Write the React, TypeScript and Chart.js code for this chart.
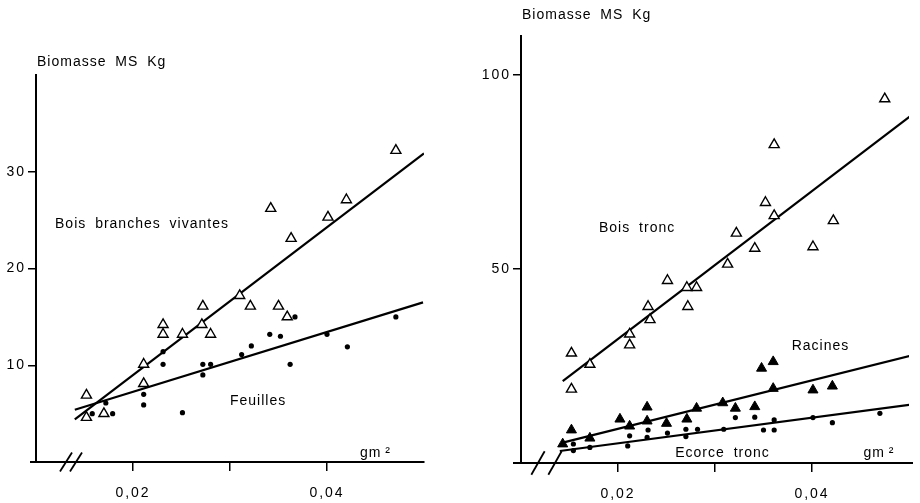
import React, { useEffect, useRef } from "react";
import { Chart, registerables } from "chart.js";
Chart.register(...registerables);

// ---------- Shared axis data ----------
const xMin = 0.01;
const xMax = 0.05;
const xTickValues = [0.02, 0.03, 0.04];
const xTickLabels = ["0,02", "", "0,04"];

// ---------- Left panel: Bois branches vivantes / Feuilles ----------
const leftYMax = 40;
const leftYTicks = [10, 20, 30];
const boisBranchesX = [0.0471, 0.042, 0.0401, 0.0342, 0.0363, 0.031, 0.0321, 0.035, 0.0359, 0.0272, 0.0271, 0.028, 0.0231, 0.0231, 0.0251, 0.0211, 0.0211, 0.0152, 0.0152, 0.017];
const boisBranchesY = [32.2, 27.1, 25.3, 26.2, 23.1, 17.2, 16.1, 16.1, 15.0, 16.1, 14.2, 13.2, 14.2, 13.2, 13.2, 10.1, 8.1, 6.9, 4.6, 5.0];
const boisBranchesFitX = [0.014, 0.05];
const boisBranchesFitY = [4.4, 31.9];
const feuillesX = [0.0367, 0.0471, 0.0341, 0.0352, 0.04, 0.0421, 0.0322, 0.0312, 0.0231, 0.0231, 0.0272, 0.028, 0.0272, 0.0362, 0.0211, 0.0211, 0.0172, 0.0158, 0.0179, 0.0251];
const feuillesY = [15.0, 15.0, 13.2, 13.0, 13.2, 11.9, 12.0, 11.1, 11.4, 10.1, 10.1, 10.1, 9.0, 10.1, 7.0, 5.9, 6.1, 5.0, 5.0, 5.1];
const feuillesFitX = [0.014, 0.0499];
const feuillesFitY = [5.4, 16.5];

// ---------- Right panel: Bois tronc / Racines / Ecorce tronc ----------
const rightYMax = 110;
const rightYTicks = [50, 100];
const boisTroncX = [0.0475, 0.0361, 0.0352, 0.0361, 0.0422, 0.0401, 0.0322, 0.0341, 0.0313, 0.0251, 0.0271, 0.0281, 0.0231, 0.0272, 0.0233, 0.0212, 0.0212, 0.0152, 0.0171, 0.0152];
const boisTroncY = [93.8, 82.0, 67.1, 63.7, 62.4, 55.7, 59.2, 55.3, 51.2, 47.0, 45.2, 45.2, 40.3, 40.3, 36.9, 33.2, 30.4, 28.3, 25.4, 19.0];
const boisTroncFitX = [0.0143, 0.0503];
const boisTroncFitY = [21.1, 89.7];
const racinesX = [0.0348, 0.036, 0.036, 0.0401, 0.0421, 0.0308, 0.0281, 0.0321, 0.0341, 0.023, 0.0202, 0.0212, 0.023, 0.025, 0.0271, 0.0152, 0.0171, 0.0143];
const racinesY = [24.4, 26.1, 19.2, 18.8, 19.8, 15.5, 14.1, 14.1, 14.5, 14.4, 11.3, 9.5, 10.8, 10.2, 11.3, 8.5, 6.4, 4.9];
const racinesFitX = [0.0142, 0.0503];
const racinesFitY = [5.2, 27.7];
const ecorceX = [0.047, 0.0401, 0.0421, 0.0321, 0.0341, 0.0361, 0.035, 0.0361, 0.0309, 0.0282, 0.027, 0.027, 0.0251, 0.0231, 0.023, 0.0212, 0.021, 0.0171, 0.0154, 0.0154];
const ecorceY = [12.8, 11.7, 10.4, 11.7, 11.8, 11.1, 8.5, 8.5, 8.7, 8.7, 8.7, 6.8, 7.7, 8.5, 6.6, 7.0, 4.4, 4.0, 4.9, 3.2];
const ecorceFitX = [0.014, 0.0503];
const ecorceFitY = [3.1, 15.1];

const FONT = "'Liberation Sans', Arial, sans-serif";

const pts = (xs: number[], ys: number[]) => xs.map((x, i) => ({ x, y: ys[i] }));

const openTri = (xs: number[], ys: number[]) => ({
  data: pts(xs, ys),
  pointStyle: "triangle",
  pointRadius: 5.8,
  backgroundColor: "#fff",
  borderColor: "#000",
  borderWidth: 1.4,
  order: 1,
});
const fillTri = (xs: number[], ys: number[]) => ({
  data: pts(xs, ys),
  pointStyle: "triangle",
  pointRadius: 5.8,
  backgroundColor: "#000",
  borderColor: "#000",
  borderWidth: 1,
  order: 1,
});
const dots = (xs: number[], ys: number[]) => ({
  data: pts(xs, ys),
  pointStyle: "circle",
  pointRadius: 2.6,
  backgroundColor: "#000",
  borderColor: "#000",
  borderWidth: 0,
  order: 1,
});
const fit = (xs: number[], ys: number[]) => ({
  data: pts(xs, ys),
  showLine: true,
  pointRadius: 0,
  borderColor: "#000",
  borderWidth: 2.2,
  order: 2,
});

type Label = { text: string; x: number; y: number };
type PanelCfg = {
  left: number;
  width: number;
  padTop: number;
  padRight: number;
  yWidth: number;
  xHeight: number;
  yMax: number;
  yTicks: number[];
  datasets: any[];
  labels: Label[];
  titleX: number;
  titleY: number;
  axisExtLeft: number;
  axisExtRight: number;
  breaks: number[];
  breakDx: number;
  breakDy: number;
};

const UNIT = "gm\u2009²";

const leftCfg: PanelCfg = {
  left: 0,
  width: 460,
  padTop: 75,
  padRight: 36,
  yWidth: 36,
  xHeight: 41,
  yMax: leftYMax,
  yTicks: leftYTicks,
  datasets: [
    fit(boisBranchesFitX, boisBranchesFitY),
    fit(feuillesFitX, feuillesFitY),
    openTri(boisBranchesX, boisBranchesY),
    dots(feuillesX, feuillesY),
  ],
  labels: [
    { text: "Bois branches vivantes", x: 0.01196, y: 24.56 },
    { text: "Feuilles", x: 0.03, y: 6.32 },
    { text: UNIT, x: 0.0434, y: 0.93 },
  ],
  titleX: 1,
  titleY: 62.5,
  axisExtLeft: 6,
  axisExtRight: 0,
  breaks: [30, 40],
  breakDx: 12,
  breakDy: 19,
};

const rightCfg: PanelCfg = {
  left: 460,
  width: 460,
  padTop: 36,
  padRight: 11,
  yWidth: 61,
  xHeight: 40,
  yMax: rightYMax,
  yTicks: rightYTicks,
  datasets: [
    fit(boisTroncFitX, boisTroncFitY),
    fit(racinesFitX, racinesFitY),
    fit(ecorceFitX, ecorceFitY),
    openTri(boisTroncX, boisTroncY),
    fillTri(racinesX, racinesY),
    dots(ecorceX, ecorceY),
  ],
  labels: [
    { text: "Bois tronc", x: 0.01804, y: 60.6 },
    { text: "Racines", x: 0.0379, y: 30.2 },
    { text: "Ecorce tronc", x: 0.0259, y: 2.6 },
    { text: UNIT, x: 0.0453, y: 2.6 },
  ],
  titleX: 1,
  titleY: 15,
  axisExtLeft: 8,
  axisExtRight: 4,
  breaks: [17, 34],
  breakDx: 13.3,
  breakDy: 23.4,
};

function Panel({ cfg }: { cfg: PanelCfg }) {
  const ref = useRef<HTMLCanvasElement | null>(null);
  useEffect(() => {
    if (!ref.current) return;
    const decor = {
      id: "decor",
      beforeDraw(chart: any) {
        chart.ctx.letterSpacing = "2px";
      },
      afterDraw(chart: any) {
        const ctx = chart.ctx as CanvasRenderingContext2D;
        const a = chart.chartArea;
        const xs = chart.scales.x;
        const ys = chart.scales.y;
        ctx.save();
        ctx.strokeStyle = "#000";
        ctx.fillStyle = "#000";
        // x axis extension
        ctx.lineWidth = 2;
        ctx.beginPath();
        ctx.moveTo(a.left - cfg.axisExtLeft, a.bottom);
        ctx.lineTo(a.right + cfg.axisExtRight, a.bottom);
        ctx.stroke();
        // break marks
        ctx.lineWidth = 1.8;
        for (const b of cfg.breaks) {
          const cx = a.left + b;
          ctx.beginPath();
          ctx.moveTo(cx - cfg.breakDx / 2, a.bottom + cfg.breakDy / 2);
          ctx.lineTo(cx + cfg.breakDx / 2, a.bottom - cfg.breakDy / 2);
          ctx.stroke();
        }
        // texts
        ctx.font = `14px ${FONT}`;
        (ctx as any).letterSpacing = "1px";
        (ctx as any).wordSpacing = "4px";
        ctx.textAlign = "left";
        ctx.textBaseline = "middle";
        ctx.fillText("Biomasse MS Kg", a.left + cfg.titleX, cfg.titleY);
        for (const l of cfg.labels) {
          ctx.fillText(l.text, xs.getPixelForValue(l.x), ys.getPixelForValue(l.y));
        }
        ctx.restore();
      },
    };
    const chart = new Chart(ref.current, {
      type: "scatter",
      data: { datasets: cfg.datasets },
      options: {
        animation: false,
        responsive: false,
        events: [],
        layout: { padding: { top: cfg.padTop, right: cfg.padRight, left: 0, bottom: 0 } },
        plugins: { legend: { display: false }, tooltip: { enabled: false } },
        scales: {
          x: {
            type: "linear",
            min: xMin,
            max: xMax,
            afterBuildTicks: (s: any) => {
              s.ticks = xTickValues.map((v) => ({ value: v }));
            },
            afterFit: (s: any) => {
              s.height = cfg.xHeight;
            },
            ticks: {
              color: "#000",
              font: { family: FONT, size: 14 },
              padding: 14,
              maxRotation: 0,
              autoSkip: false,
              callback: (v: any) => {
                const i = xTickValues.findIndex((t) => Math.abs(t - Number(v)) < 1e-9);
                return i >= 0 ? xTickLabels[i] : "";
              },
            },
            grid: { display: true, drawOnChartArea: false, drawTicks: true, tickLength: 9, color: "#000", lineWidth: 1.5 },
            border: { display: true, color: "#000", width: 2 },
          },
          y: {
            type: "linear",
            min: 0,
            max: cfg.yMax,
            afterBuildTicks: (s: any) => {
              s.ticks = cfg.yTicks.map((v) => ({ value: v }));
            },
            afterFit: (s: any) => {
              s.width = cfg.yWidth;
            },
            ticks: {
              color: "#000",
              font: { family: FONT, size: 14 },
              padding: 2,
              autoSkip: false,
              callback: (v: any) => String(v),
            },
            grid: { display: true, drawOnChartArea: false, drawTicks: true, tickLength: 8, color: "#000", lineWidth: 1.5 },
            border: { display: true, color: "#000", width: 2 },
          },
        },
      } as any,
      plugins: [decor],
    });
    return () => chart.destroy();
  }, [cfg]);
  return (
    <canvas
      ref={ref}
      width={cfg.width}
      height={503}
      style={{ position: "absolute", left: cfg.left, top: 0, width: cfg.width, height: 503 }}
    />
  );
}

export default function App() {
  return (
    <div style={{ position: "fixed", left: 0, top: 0, width: 920, height: 503, background: "#fff", overflow: "hidden" }}>
      <Panel cfg={leftCfg} />
      <Panel cfg={rightCfg} />
    </div>
  );
}
